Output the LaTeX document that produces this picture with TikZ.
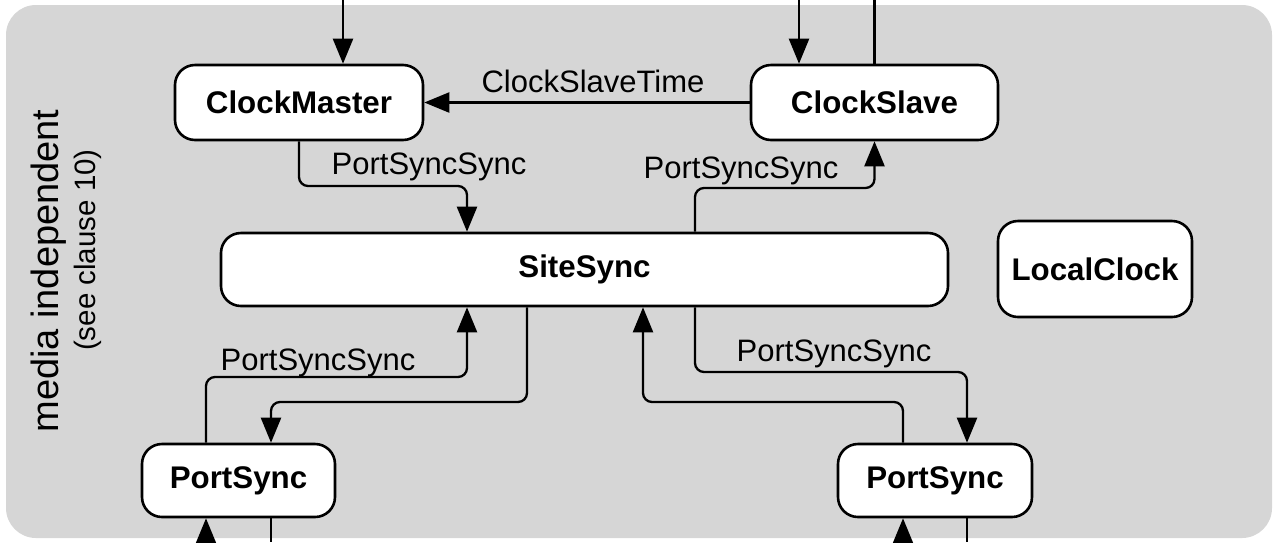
\documentclass[tikz,border=0pt]{standalone}
\usepackage{fontspec}
\setmainfont{Liberation Sans}
\usetikzlibrary{arrows.meta}
\definecolor{panel}{RGB}{214,214,214}
\begin{document}
\begin{tikzpicture}[x=1pt,y=-1pt,
  block/.style={draw=black,line width=2.6pt,fill=white,rounded corners=20pt,
    inner sep=0pt,font=\fontsize{31.3}{36}\selectfont\bfseries},
  flow/.style={line width=2.3pt,rounded corners=9pt},
  arr/.style={flow,-{Triangle[length=25pt,width=20pt]}},
  lbl/.style={anchor=base,inner sep=0pt,font=\fontsize{31}{36}\selectfont}]
\useasboundingbox (0,0) rectangle (1273,542);
% grey panel
\fill[panel,rounded corners=30pt] (6,5) rectangle (1272,538);

% side caption
\node[rotate=90,inner sep=0pt,font=\fontsize{38}{44}\selectfont] (mi) at (49,271) {media independent};
\node[rotate=90,inner sep=0pt,font=\fontsize{29.5}{34}\selectfont] (sc) at (88,250) {(see clause 10)};

% state machines
\node[block,minimum width=248pt,minimum height=75pt] (cm) at (299,102.5) {ClockMaster};
\node[block,minimum width=247pt,minimum height=75pt] (cs) at (874.5,102.5) {ClockSlave};
\node[block,minimum width=727pt,minimum height=73pt] (ss) at (584.5,269.5) {SiteSync};
\node[block,minimum width=194pt,minimum height=96pt] (lc) at (1095,269) {LocalClock};
\node[block,minimum width=193pt,minimum height=73pt] (pl) at (238.5,480.5) {PortSync};
\node[block,minimum width=194pt,minimum height=73pt] (pr) at (935,480.5) {PortSync};

% free ends at the top and bottom edges
\coordinate (cmIn) at (343,0);
\coordinate (csIn) at (799,0);
\coordinate (csOut) at (874.5,0);
\coordinate (plIn) at (206,542);
\coordinate (plOut) at (271,542);
\coordinate (prIn) at (903,542);
\coordinate (prOut) at (967,542);

\draw[arr] (cmIn) -- (cmIn |- cm.north);
\draw[arr] (csIn) -- (csIn |- cs.north);
\draw[flow] (cs.north) -- (csOut);
\draw[arr] (plIn) -- (plIn |- pl.south);
\draw[flow] (plOut |- pl.south) -- (plOut);
\draw[arr] (prIn) -- (prIn |- pr.south);
\draw[flow] (prOut |- pr.south) -- (prOut);

% ClockSlave -> ClockMaster
\draw[arr] (cs.west) -- (cm.east);
\node[lbl] (tCST) at (593,92) {ClockSlaveTime};

% ClockMaster -> SiteSync
\draw[arr] (cm.south) |- (467,186) -- (467,0 |- ss.north);
\node[lbl] (tPSS1) at (429,174) {PortSyncSync};

% SiteSync -> ClockSlave
\draw[arr] (695,0 |- ss.north) |- (874.5,188) -- (cs.south);
\node[lbl] (tPSS2) at (741,178) {PortSyncSync};

% left PortSync <-> SiteSync
\draw[arr] (206,0 |- pl.north) |- (467,377) -- (467,0 |- ss.south);
\node[lbl] (tPSS3) at (318,370) {PortSyncSync};
\draw[arr] (527,0 |- ss.south) |- (271,402) -- (271,0 |- pl.north);

% right PortSync <-> SiteSync
\draw[arr] (695,0 |- ss.south) |- (967,372) -- (967,0 |- pr.north);
\node[lbl] (tPSS4) at (834,361) {PortSyncSync};
\draw[arr] (903,0 |- pr.north) |- (643,402) -- (643,0 |- ss.south);
\end{tikzpicture}
\end{document}
